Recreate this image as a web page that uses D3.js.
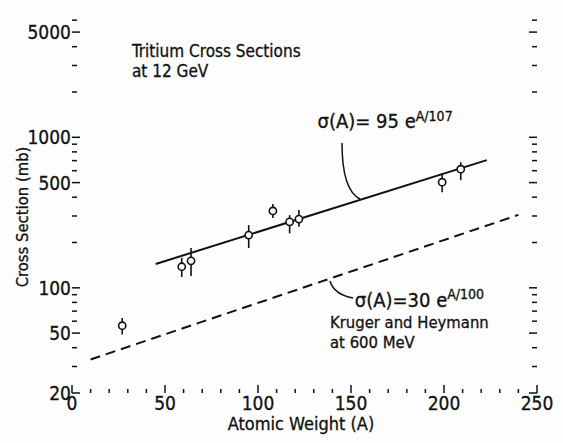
<!DOCTYPE html>
<html>
<head>
<meta charset="utf-8">
<script src="https://cdn.jsdelivr.net/npm/d3@7"></script>
<style>
  body { margin: 0; background: #fdfdfd; }
  text { font-family: "DejaVu Sans Condensed", "Liberation Sans Narrow", "DejaVu Sans", sans-serif; font-stretch: condensed; fill: #111; stroke: #111; stroke-width: 0.3; }
</style>
</head>
<body>
<div id="chart"></div>
<script>
// measured points (tritium, 12 GeV)
var atomicWeight = [27, 59, 64, 95, 108, 117, 122, 199, 209];
var sigma = [56, 138, 151, 224, 324, 274, 286, 503, 614];
var sigmaLow = [49, 118, 120, 184, 291, 230, 254, 432, 519];
var sigmaHigh = [63, 158, 184, 261, 360, 304, 329, 578, 683];

// fit line ends and the 600 MeV reference line ends
var fitA = [45, 223];
var fitSigma = [144, 705];
var refA = [10, 240];
var refSigma = [33.4, 305];

var xTicks = [0, 50, 100, 150, 200, 250];
var yTicks = [20, 50, 100, 500, 1000, 5000];

var svgWidth = 563;
var svgHeight = 443;

var svg = d3.select("#chart")
  .append("svg")
  .attr("width", svgWidth)
  .attr("height", svgHeight);

var xScale = d3.scaleLinear().domain([0, 250]).range([72, 537]);
var yScale = d3.scaleLog().domain([20, 6800]).range([393, 12]);

var left = xScale(0), right = xScale(250), top = yScale(6800), bottom = yScale(20);

// frame
svg.append("rect")
  .attr("x", left).attr("y", top)
  .attr("width", right - left).attr("height", bottom - top)
  .attr("fill", "none").attr("stroke", "#111").attr("stroke-width", 2);

// x ticks (bottom + top), inward
var xMinor = d3.range(0, 251, 10);
xMinor.forEach(function(v) {
  var len = v % 50 == 0 ? 8 : 4;
  svg.append("line").attr("x1", xScale(v)).attr("x2", xScale(v))
    .attr("y1", bottom).attr("y2", bottom - len)
    .attr("stroke", "#111").attr("stroke-width", 1.5);
  svg.append("line").attr("x1", xScale(v)).attr("x2", xScale(v))
    .attr("y1", top).attr("y2", top + len)
    .attr("stroke", "#111").attr("stroke-width", 1.5);
});

// y ticks (left + right), inward
var yMinor = d3.range(20, 100, 10).concat(d3.range(100, 1000, 100)).concat(d3.range(1000, 6001, 1000));
yMinor.forEach(function(v) {
  var len = yTicks.indexOf(v) >= 0 ? 8 : 5;
  svg.append("line").attr("x1", left).attr("x2", left + len)
    .attr("y1", yScale(v)).attr("y2", yScale(v))
    .attr("stroke", "#111").attr("stroke-width", 1.5);
  svg.append("line").attr("x1", right).attr("x2", right - len)
    .attr("y1", yScale(v)).attr("y2", yScale(v))
    .attr("stroke", "#111").attr("stroke-width", 1.5);
});

// tick labels
svg.selectAll(null).data(xTicks).enter().append("text")
  .attr("x", d => xScale(d))
  .attr("y", bottom + 17)
  .attr("text-anchor", "middle")
  .attr("font-size", 19)
  .text(d => d);

svg.selectAll(null).data(yTicks).enter().append("text")
  .attr("x", left - 1)
  .attr("y", d => yScale(d) + 7)
  .attr("text-anchor", "end")
  .attr("font-size", 19)
  .text(d => d);

// axis titles
svg.append("text")
  .attr("x", 301).attr("y", 430)
  .attr("text-anchor", "middle")
  .attr("font-size", 18)
  .text("Atomic Weight (A)");

svg.append("text")
  .attr("transform", "translate(28, 217)rotate(-90)")
  .attr("text-anchor", "middle")
  .attr("font-size", 16.5)
  .text("Cross Section (mb)");

// fit line
var line = d3.line().x(d => xScale(d[0])).y(d => yScale(d[1]));

svg.append("path")
  .datum(d3.zip(fitA, fitSigma))
  .attr("d", line)
  .attr("fill", "none").attr("stroke", "#111").attr("stroke-width", 2);

svg.append("path")
  .datum(d3.zip(refA, refSigma))
  .attr("d", line)
  .attr("fill", "none").attr("stroke", "#111").attr("stroke-width", 2)
  .attr("stroke-dasharray", "10,6");

// error bars + points
var pts = atomicWeight.map(function(a, i) {
  return { a: a, s: sigma[i], lo: sigmaLow[i], hi: sigmaHigh[i] };
});

svg.selectAll(null).data(pts).enter().append("line")
  .attr("x1", d => xScale(d.a)).attr("x2", d => xScale(d.a))
  .attr("y1", d => yScale(d.lo)).attr("y2", d => yScale(d.hi))
  .attr("stroke", "#111").attr("stroke-width", 1.6);

svg.selectAll(null).data(pts).enter().append("circle")
  .attr("cx", d => xScale(d.a))
  .attr("cy", d => yScale(d.s))
  .attr("r", 3.6)
  .attr("fill", "#fdfdfd").attr("stroke", "#111").attr("stroke-width", 1.6);

// titles / annotations
svg.append("text").attr("x", 132).attr("y", 57).attr("font-size", 17).text("Tritium Cross Sections");
svg.append("text").attr("x", 132).attr("y", 77).attr("font-size", 17).text("at 12 GeV");

var f1 = svg.append("text").attr("x", xScale(132)).attr("y", yScale(1150)).attr("font-size", 20);
f1.append("tspan").text("σ(A)= 95 e");
f1.append("tspan").attr("dy", -7).attr("font-size", 14).text("A/107");

svg.append("path")
  .attr("d", "M342,143 C342,176 348,193 360,199")
  .attr("fill", "none").attr("stroke", "#111").attr("stroke-width", 1.5);

var f2 = svg.append("text").attr("x", xScale(152)).attr("y", yScale(74)).attr("font-size", 20);
f2.append("tspan").text("σ(A)=30 e");
f2.append("tspan").attr("dy", -8).attr("font-size", 14).text("A/100");

svg.append("path")
  .attr("d", "M330,281 C333,291 342,296 353,298")
  .attr("fill", "none").attr("stroke", "#111").attr("stroke-width", 1.5);

svg.append("text").attr("x", 330).attr("y", 328).attr("font-size", 16.5).text("Kruger and Heymann");
svg.append("text").attr("x", 330).attr("y", 348).attr("font-size", 16.5).text("at 600 MeV");
</script>
</body>
</html>
